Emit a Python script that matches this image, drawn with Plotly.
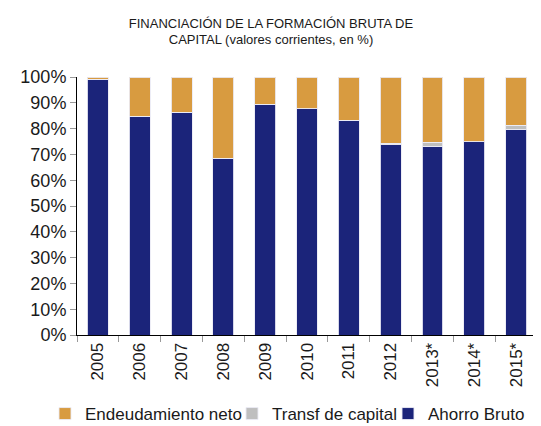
import plotly.graph_objects as go

years = ["2005", "2006", "2007", "2008", "2009", "2010", "2011", "2012", "2013*", "2014*", "2015*"]
ahorro_bruto = [99.1, 84.8, 86.3, 68.5, 89.5, 87.6, 83.2, 73.8, 73.1, 74.9, 79.6]
transf_capital = [0.0, 0.0, 0.0, 0.0, 0.0, 0.0, 0.0, 0.5, 1.7, 0.0, 1.7]
endeudamiento_neto = [0.9, 15.2, 13.7, 31.5, 10.5, 12.4, 16.8, 25.7, 25.2, 25.1, 18.7]

FONT = "Liberation Sans, Arial, sans-serif"
edge = dict(color="rgba(235,235,245,0.9)", width=1)

# page body has an 8px default margin, so the figure is sized to fit the window
W, H = 533, 418
ML, MR, MT, MB = 69, 4, 69, 91

fig = go.Figure()
fig.add_trace(go.Bar(x=years, y=ahorro_bruto, name="Ahorro Bruto", legend="legend3",
                     marker=dict(color="#1B247A", line=edge)))
fig.add_trace(go.Bar(x=years, y=transf_capital, name="Transf de capital", legend="legend2",
                     marker=dict(color="#BFBFBF", line=edge)))
fig.add_trace(go.Bar(x=years, y=endeudamiento_neto, name="Endeudamiento neto", legend="legend",
                     marker=dict(color="#D89B40", line=edge)))


def leg(text_left_px):
    return dict(orientation="h", x=(text_left_px - 8 - 40) / W, xanchor="left", xref="container",
                y=1 - (414 - 8) / H, yanchor="middle", yref="container",
                font=dict(family=FONT, size=17, color="#1a1a1a"), bgcolor="rgba(0,0,0,0)")


fig.update_layout(
    width=W, height=H,
    barmode="stack", bargap=0.5,
    paper_bgcolor="white", plot_bgcolor="white",
    margin=dict(l=ML, r=MR, t=MT, b=MB, autoexpand=False),
    font=dict(family=FONT, size=18, color="#1a1a1a"),
    title=dict(text="FINANCIACIÓN DE LA FORMACIÓN BRUTA DE<br>CAPITAL (valores corrientes, en %)",
               x=263 / W, xanchor="center", xref="container",
               y=1 - 19.5 / H, yanchor="middle", yref="container",
               font=dict(family=FONT, size=13, color="#1a1a1a")),
    legend=leg(85),
    legend2=leg(272),
    legend3=leg(428),
    showlegend=True,
)
fig.update_xaxes(type="category", tickangle=-90, showline=True, linecolor="black", linewidth=1,
                 ticks="outside", tickson="boundaries", ticklen=6, tickcolor="#999999",
                 showgrid=False, automargin=False, tickfont=dict(family=FONT, size=17))
fig.update_yaxes(range=[0, 100], dtick=10, ticksuffix="%", showline=True, linecolor="black",
                 linewidth=1, ticks="outside", ticklen=6, tickcolor="#999999",
                 showgrid=False, zeroline=False, automargin=False, tickfont=dict(family=FONT, size=18))

fig.write_html("out.html")
